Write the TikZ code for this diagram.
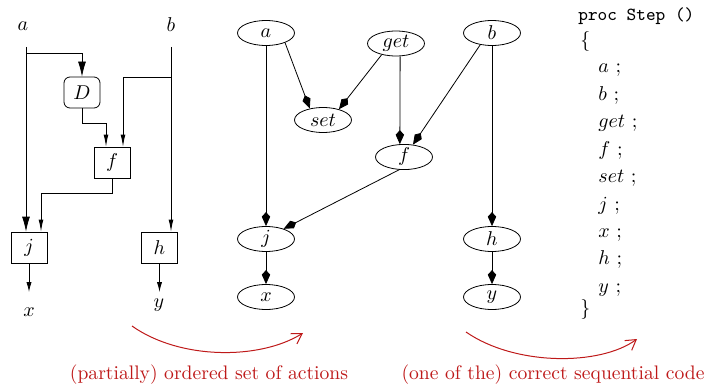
\documentclass[tikz,border=0pt]{standalone}
\usetikzlibrary{shapes.geometric,arrows.meta}
\definecolor{capred}{RGB}{190,25,25}
\begin{document}
\begin{tikzpicture}[x=0.5pt,y=-0.5pt,
  sq/.style={draw, minimum width=18pt, minimum height=15.5pt, inner sep=0pt},
  el/.style={draw, ellipse, minimum width=28.5pt, minimum height=12.5pt, inner sep=0pt},
  lbl/.style={inner sep=0pt},
  bigarr/.style={-{Latex[length=7.5pt,width=4pt]}},
  smallarr/.style={-{Latex[length=6pt,width=2.4pt]}},
  outarr/.style={-{Latex[length=5pt,width=2.6pt]}},
  kitearr/.style={-{Kite[length=7pt,width=4.2pt,inset=2.3pt]}},
  redarr/.style={capred, line width=0.5pt, -{Straight Barb[length=5pt,width=6pt]}},
  code/.style={anchor=base west, inner sep=0pt},
  captxt/.style={text=capred, inner sep=0pt, font=\fontsize{9.8}{12}\selectfont}
]
\useasboundingbox (0,0) rectangle (706,390);

% ---------- left: data-flow diagram ----------
\node[lbl] (la) at (23,26) {$a$};
\node[lbl] (lb) at (171,25) {$b$};
\node[sq, rounded corners=3pt] (D) at (82,92.5) {$D$};
\node[sq] (lf) at (112,162.5) {$f$};
\node[sq] (lj) at (29,247.5) {$j$};
\node[sq] (lh) at (159.5,247.5) {$h$};
\node[lbl] (lx) at (29,312) {$x$};
\node[lbl] (ly) at (159,305) {$y$};
\coordinate (as) at (26,47);
\coordinate (abr) at (26,53);
\coordinate (bs) at (171,47);
\coordinate (bbr) at (171,77);
\coordinate (xe) at (29,292);
\coordinate (ye) at (159.5,292);

\draw[bigarr] (as) -- (as |- lj.north);
\draw[bigarr] (abr) -| (D.north);
\draw[smallarr] (D.south) -- ++(0,15) -| ([xshift=-3pt]lf.north);
\draw[smallarr] (bs) -- (bs |- lh.north);
\draw[smallarr] (bbr) -| ([xshift=5.5pt]lf.north);
\draw[smallarr] (lf.south) -- ++(0,15) -| ([xshift=6pt]lj.north);
\draw[outarr] (lj.south) -- (xe);
\draw[outarr] (lh.south) -- (ye);

% ---------- middle: partial order ----------
\node[el] (a) at (266,33) {$a$};
\node[el] (get) at (396,43.5) {$get$};
\node[el] (b) at (492,33) {$b$};
\node[el] (set) at (323,120) {$set$};
\node[el] (f) at (404,157) {$f$};
\node[el] (j) at (266,239) {$j$};
\node[el] (h) at (492,239) {$h$};
\node[el] (x) at (266,297) {$x$};
\node[el] (y) at (492,297) {$y$};

\draw[kitearr] (a.-27) -- (set.139);
\draw[kitearr] (get.-142) -- (set.34);
\draw[kitearr] (get.-72) -- (f.108);
\draw[kitearr] (b.-135) -- (f.54);
\draw[kitearr] (f.-111) -- (j.30);
\draw[kitearr] (a) -- (j);
\draw[kitearr] (b) -- (h);
\draw[kitearr] (j) -- (x);
\draw[kitearr] (h) -- (y);

% ---------- right: sequential code ----------
\node[code, font=\fontsize{9.2}{11}\selectfont\ttfamily] (proc) at (578,21) {proc Step ()};
\node[code] (lbr) at (580,47) {\{};
\node[code] (ca) at (598,73) {$a$ ;};
\node[code] (cb) at (598,100.4) {$b$ ;};
\node[code] (cget) at (598,127.8) {$get$ ;};
\node[code] (cf) at (598,155.2) {$f$ ;};
\node[code] (cset) at (598,182.6) {$set$ ;};
\node[code] (cj) at (598,210) {$j$ ;};
\node[code] (cx) at (598,237.4) {$x$ ;};
\node[code] (ch) at (598,264.8) {$h$ ;};
\node[code] (cy) at (598,292.2) {$y$ ;};
\node[code] (rbr) at (580,314) {\}};

% ---------- bottom: red captions and arcs ----------
\coordinate (r1s) at (132,326);
\coordinate (r1e) at (303,333);
\draw[redarr] (r1s) .. controls (180,360) and (260,360) .. (r1e);
\coordinate (r2s) at (466,332);
\coordinate (r2e) at (637,339);
\draw[redarr] (r2s) .. controls (515,366) and (600,366) .. (r2e);
\node[captxt] (t1) at (209,375) {(partially) ordered set of actions};
\node[captxt] (t2) at (553,375) {(one of the) correct sequential code};
\end{tikzpicture}
\end{document}
